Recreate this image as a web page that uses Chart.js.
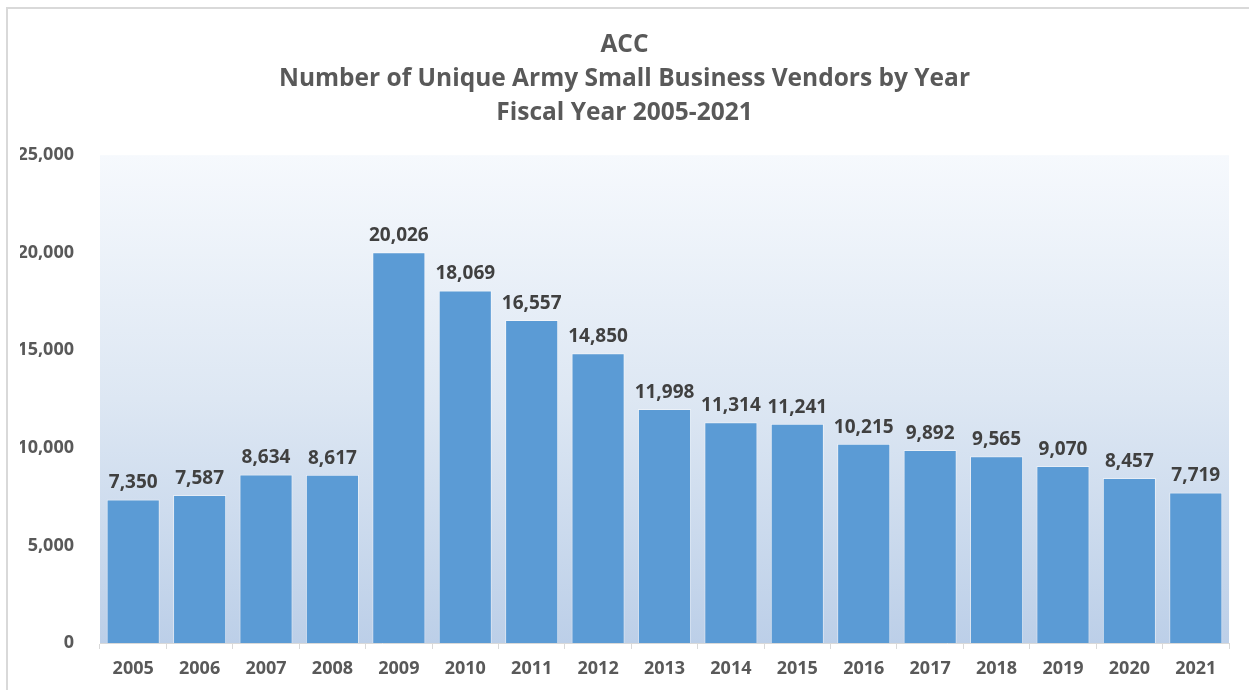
<!DOCTYPE html>
<html>
<head>
<meta charset="utf-8">
<script src="https://cdn.jsdelivr.net/npm/chart.js@4"></script>
<style>
  html, body { margin: 0; padding: 0; background: #fff; }
  #wrap { position: relative; width: 1249px; height: 690px; overflow: hidden; }
  #frame { position: absolute; left: 6px; top: 7px; width: 1245px; height: 700px; border: 2px solid #d9d9d9; box-sizing: border-box; }
  canvas { position: absolute; left: 0; top: 0; }
</style>
</head>
<body>
<div id="wrap">
  <div id="frame"></div>
  <canvas id="chart" width="1249" height="690"></canvas>
</div>
<script>
var years = ['2005', '2006', '2007', '2008', '2009', '2010', '2011', '2012', '2013',
             '2014', '2015', '2016', '2017', '2018', '2019', '2020', '2021'];
var vendors = [7350, 7587, 8634, 8617, 20026, 18069, 16557, 14850, 11998,
               11314, 11241, 10215, 9892, 9565, 9070, 8457, 7719];
var titleLines = ['ACC', 'Number of Unique Army Small Business Vendors by Year', 'Fiscal Year 2005-2021'];

var fontFamily = "'Open Sans', 'Noto Sans', sans-serif";

// gradient fill behind the plot area
var plotBackground = {
  id: 'plotBackground',
  beforeDraw: (chart) => {
    var a = chart.chartArea, ctx = chart.ctx;
    var g = ctx.createLinearGradient(0, a.top, 0, a.bottom);
    g.addColorStop(0, '#f6f9fd');
    g.addColorStop(0.5, '#dde7f3');
    g.addColorStop(1, '#bccfe8');
    ctx.save();
    ctx.fillStyle = g;
    ctx.fillRect(a.left, a.top, a.right - a.left, a.bottom - a.top);
    ctx.restore();
  }
};

// value labels above each bar
var valueLabels = {
  id: 'valueLabels',
  afterDatasetsDraw: (chart) => {
    var ctx = chart.ctx;
    var meta = chart.getDatasetMeta(0);
    ctx.save();
    ctx.font = 'bold 19px ' + fontFamily;
    ctx.fillStyle = '#404040';
    ctx.textAlign = 'center';
    ctx.textBaseline = 'bottom';
    meta.data.forEach((bar, i) => {
      ctx.fillText(vendors[i].toLocaleString('en-US'), bar.x, bar.y - 7);
    });
    ctx.restore();
  }
};

var chart = new Chart(document.getElementById('chart'), {
  type: 'bar',
  data: {
    labels: years,
    datasets: [{
      data: vendors,
      backgroundColor: '#5b9bd5',
      borderColor: 'rgba(255,255,255,0.45)',
      borderWidth: 1,
      barPercentage: 0.8,
      categoryPercentage: 1
    }]
  },
  options: {
    responsive: false,
    animation: false,
    layout: {
      padding: { top: 18, left: 20, right: 20, bottom: 0 }
    },
    plugins: {
      legend: { display: false },
      tooltip: { enabled: false },
      title: {
        display: true,
        text: titleLines,
        color: '#595959',
        font: { family: fontFamily, size: 24.5, weight: 'bold', lineHeight: 1.39 },
        padding: { top: 10, bottom: 25 }
      }
    },
    scales: {
      x: {
        afterFit: (scale) => { scale.height = 47; },
        grid: {
          drawOnChartArea: false,
          drawTicks: true,
          tickLength: 6,
          color: '#d9d9d9'
        },
        border: { color: '#d9d9d9', width: 1 },
        ticks: {
          color: '#595959',
          padding: 9,
          font: { family: fontFamily, size: 18, weight: 'bold' }
        }
      },
      y: {
        min: 0,
        max: 25000,
        afterFit: (scale) => { scale.width = 80; },
        ticks: {
          stepSize: 5000,
          color: '#595959',
          padding: 18,
          font: { family: fontFamily, size: 18, weight: 'bold' },
          callback: (v) => v.toLocaleString('en-US')
        },
        grid: { display: false },
        border: { display: false }
      }
    }
  },
  plugins: [plotBackground, valueLabels]
});
</script>
</body>
</html>
